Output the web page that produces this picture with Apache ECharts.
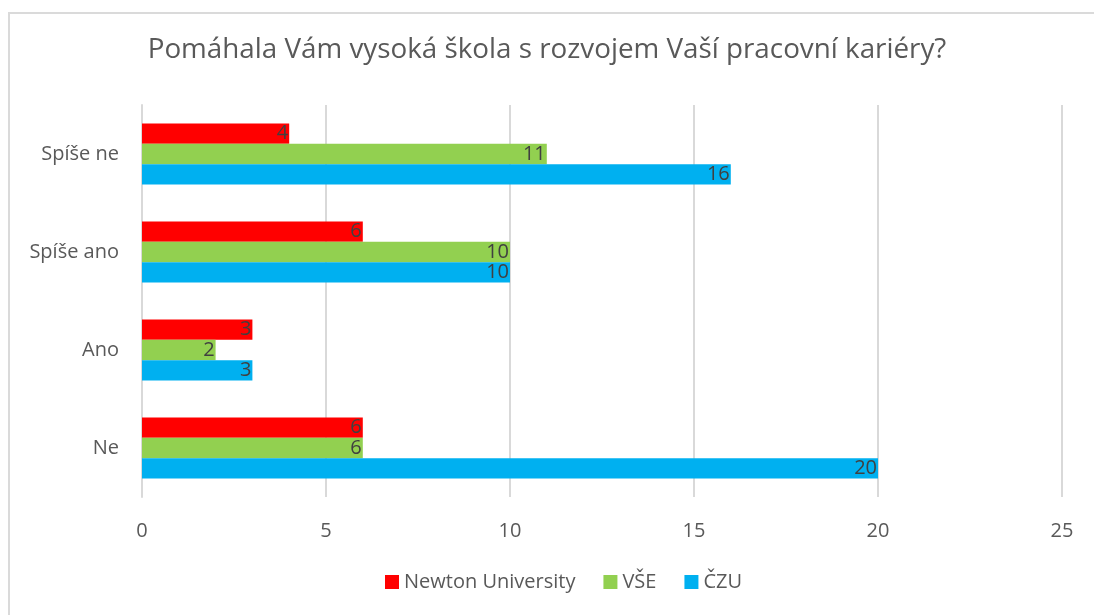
<!DOCTYPE html>
<html>
<head>
<meta charset="utf-8">
<script src="https://cdn.jsdelivr.net/npm/echarts@6/dist/echarts.min.js"></script>
<style>
  html, body { margin: 0; padding: 0; background: #fff; }
  #frame {
    position: absolute; left: 8px; top: 12px; width: 1200px; height: 700px;
    border-top: 2px solid #dadada; border-left: 2px solid #dadada;
  }
  #chart { position: absolute; left: 0; top: 0; width: 1094px; height: 615px; }
</style>
</head>
<body>
<div id="frame"></div>
<div id="chart"></div>
<script>
const categories = ['Ne', 'Ano', 'Spíše ano', 'Spíše ne'];
const newton = [6, 3, 6, 4];
const vse = [6, 2, 10, 11];
const czu = [20, 3, 10, 16];
const xTicks = [0, 5, 10, 15, 20, 25];

const textColor = '#595959';
const labelColor = '#404040';
const font = '"Open Sans", sans-serif';

const myChart = echarts.init(document.getElementById('chart'));

const barLabel = {
  show: true,
  position: 'insideRight',
  distance: 1,
  color: labelColor,
  fontSize: 20,
  fontFamily: font,
};

const option = {
  animation: false,
  title: {
    text: 'Pomáhala Vám vysoká škola s rozvojem Vaší pracovní kariéry?',
    left: 'center',
    top: 31,
    textStyle: { color: textColor, fontSize: 27.8, fontWeight: 'normal', fontFamily: font },
  },
  legend: {
    data: ['Newton University', 'VŠE', 'ČZU'],
    top: 567,
    left: 380,
    itemWidth: 14,
    itemHeight: 14,
    itemGap: 28,
    icon: 'rect',
    textStyle: { color: textColor, fontSize: 20, fontFamily: font },
  },
  grid: { left: 142, right: 32, top: 105, bottom: 118 },
  xAxis: {
    type: 'value',
    min: xTicks[0],
    max: xTicks[xTicks.length - 1],
    interval: 5,
    axisLine: { show: false },
    axisTick: { show: false },
    axisLabel: { color: textColor, fontSize: 20, fontFamily: font, margin: 24 },
    splitLine: { lineStyle: { color: '#d9d9d9', width: 2 } },
  },
  yAxis: {
    type: 'category',
    data: categories,
    axisLine: { lineStyle: { color: '#d9d9d9', width: 2 } },
    axisTick: { show: false },
    axisLabel: { color: textColor, fontSize: 20, fontFamily: font, margin: 23 },
  },
  series: [
    { name: 'Newton University', type: 'bar', data: newton, itemStyle: { color: '#FF0000' }, label: barLabel, barGap: '0%', barCategoryGap: '38%' },
    { name: 'VŠE', type: 'bar', data: vse, itemStyle: { color: '#92D050' }, label: barLabel, barGap: '0%', barCategoryGap: '38%' },
    { name: 'ČZU', type: 'bar', data: czu, itemStyle: { color: '#00B0F0' }, label: barLabel, barGap: '0%', barCategoryGap: '38%' },
  ],
};

myChart.setOption(option);
</script>
</body>
</html>
